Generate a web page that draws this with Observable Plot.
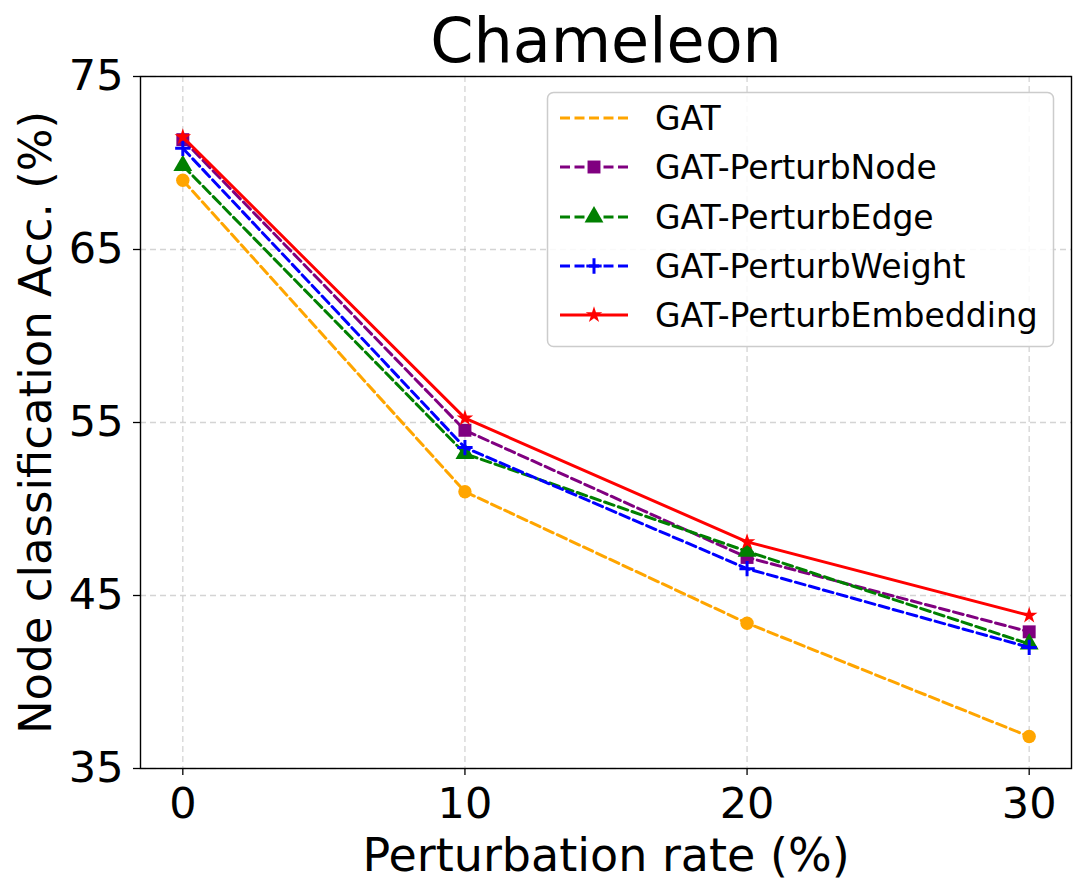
<!DOCTYPE html>
<html>
<head>
<meta charset="utf-8">
<script src="https://cdn.jsdelivr.net/npm/d3@7"></script>
<script src="https://cdn.jsdelivr.net/npm/@observablehq/plot@0.6"></script>
<style>
  html, body { margin: 0; padding: 0; background: #ffffff; }
  #chart { width: 1086px; height: 896px; }
</style>
</head>
<body>
<div id="chart"></div>
<script>
// Node classification accuracy on Chameleon versus perturbation rate
const title = "Chameleon";
const xLabel = "Perturbation rate (%)";
const yLabel = "Node classification Acc. (%)";

const rates = [0, 10, 20, 30];
const yTicks = [35, 45, 55, 65, 75];

const methods = ["GAT", "GAT-PerturbNode", "GAT-PerturbEdge", "GAT-PerturbWeight", "GAT-PerturbEmbedding"];
const gat = [69.0, 51.0, 43.4, 36.85];
const perturbNode = [71.35, 54.55, 47.2, 42.9];
const perturbEdge = [69.85, 53.2, 47.55, 42.2];
const perturbWeight = [70.85, 53.55, 46.55, 42.0];
const perturbEmbedding = [71.5, 55.25, 48.1, 43.85];

// drawing style per method
const seriesColors = ["#FFA500", "#800080", "#008000", "#0000FF", "#FF0000"];
const seriesSymbols = ["circle", "square", "triangle", "plus", "star"];
const seriesRadius = [6.7, 7.3, 7.0, 5.0, 5.2];
const seriesDash = ["10,4.5", "10,4.5", "10,4.5", "10,4.5", null];
const legendShowsMarker = [false, true, true, true, true];

const values = [gat, perturbNode, perturbEdge, perturbWeight, perturbEmbedding];
const rows = methods.flatMap((m, i) => rates.map((r, j) => ({method: m, rate: r, acc: values[i][j]})));

const font = "DejaVu Sans";

const seriesMarks = methods.flatMap((m, i) => {
  const data = rows.filter(d => d.method === m);
  const dot = seriesSymbols[i] === "plus"
    ? Plot.dot(data, {x: "rate", y: "acc", symbol: () => "plus", r: seriesRadius[i], stroke: seriesColors[i], strokeWidth: 3, fill: "none"})
    : Plot.dot(data, {x: "rate", y: "acc", symbol: () => seriesSymbols[i], r: seriesRadius[i], fill: seriesColors[i], stroke: "none"});
  return [
    Plot.line(data, {x: "rate", y: "acc", stroke: seriesColors[i], strokeWidth: 3,
      strokeDasharray: seriesDash[i] || undefined, curve: "linear"}),
    dot
  ];
});

const chart = Plot.plot({
  width: 1086,
  height: 896,
  marginLeft: 140,
  marginRight: 15,
  marginTop: 76,
  marginBottom: 128,
  style: {fontFamily: font, fontSize: "42px", background: "#ffffff", color: "#000000", overflow: "visible"},
  x: {domain: [-1.5, 31.5], ticks: rates},
  y: {domain: [35, 75], ticks: yTicks},
  symbol: {type: "identity"},
  marks: [
    Plot.gridX(rates, {stroke: "#b0b0b0", strokeOpacity: 0.55, strokeWidth: 1.3, strokeDasharray: "6,4"}),
    Plot.gridY(yTicks, {stroke: "#b0b0b0", strokeOpacity: 0.55, strokeWidth: 1.3, strokeDasharray: "6,4"}),
    Plot.axisX(rates, {tickSize: 7, tickPadding: 12, fontSize: 43, label: null, strokeWidth: 1.3}),
    Plot.axisY(yTicks, {tickSize: 7, tickPadding: 10, fontSize: 43, label: null, strokeWidth: 1.3}),
    ...seriesMarks,
    Plot.frame({stroke: "#000000", strokeWidth: 1.4}),
    Plot.text([title], {text: d => d, frameAnchor: "top", lineAnchor: "middle", textAnchor: "middle", dy: -34, fontSize: 62}),
    Plot.text([xLabel], {text: d => d, frameAnchor: "bottom", lineAnchor: "middle", textAnchor: "middle", dy: 88, fontSize: 46}),
    Plot.text([yLabel], {text: d => d, frameAnchor: "left", lineAnchor: "middle", textAnchor: "middle", dx: -104, rotate: -90, fontSize: 45})
  ]
});

// legend box in the upper right of the plotting area
const svg = d3.select(chart);
const legend = svg.append("g").attr("font-family", font).attr("text-anchor", "start");
const lx = 547.5, ly = 92.5, lw = 506, lh = 254;
legend.append("rect")
  .attr("x", lx).attr("y", ly).attr("width", lw).attr("height", lh)
  .attr("rx", 6).attr("ry", 6)
  .attr("fill", "#ffffff").attr("fill-opacity", 0.85)
  .attr("stroke", "#cccccc").attr("stroke-width", 1.5);

const typeMap = {circle: d3.symbolCircle, square: d3.symbolSquare, triangle: d3.symbolTriangle, plus: d3.symbolPlus, star: d3.symbolStar};
const rowY = [118, 167, 217, 266, 315];
methods.forEach((m, i) => {
  const y = rowY[i];
  const g = legend.append("g");
  g.append("line")
    .attr("x1", 560).attr("x2", 628).attr("y1", y).attr("y2", y)
    .attr("stroke", seriesColors[i]).attr("stroke-width", 3)
    .attr("stroke-dasharray", seriesDash[i]);
  if (legendShowsMarker[i]) {
    const r = seriesRadius[i];
    const path = d3.symbol(typeMap[seriesSymbols[i]], Math.PI * r * r)();
    const p = g.append("path").attr("d", path).attr("transform", `translate(594,${y})`);
    if (seriesSymbols[i] === "plus") p.attr("fill", "none").attr("stroke", seriesColors[i]).attr("stroke-width", 3);
    else p.attr("fill", seriesColors[i]);
  }
  g.append("text")
    .attr("x", 655).attr("y", y + 12)
    .attr("font-size", 33).attr("fill", "#000000")
    .attr("text-anchor", "start")
    .text(m);
});

document.getElementById("chart").appendChild(chart);
</script>
</body>
</html>
